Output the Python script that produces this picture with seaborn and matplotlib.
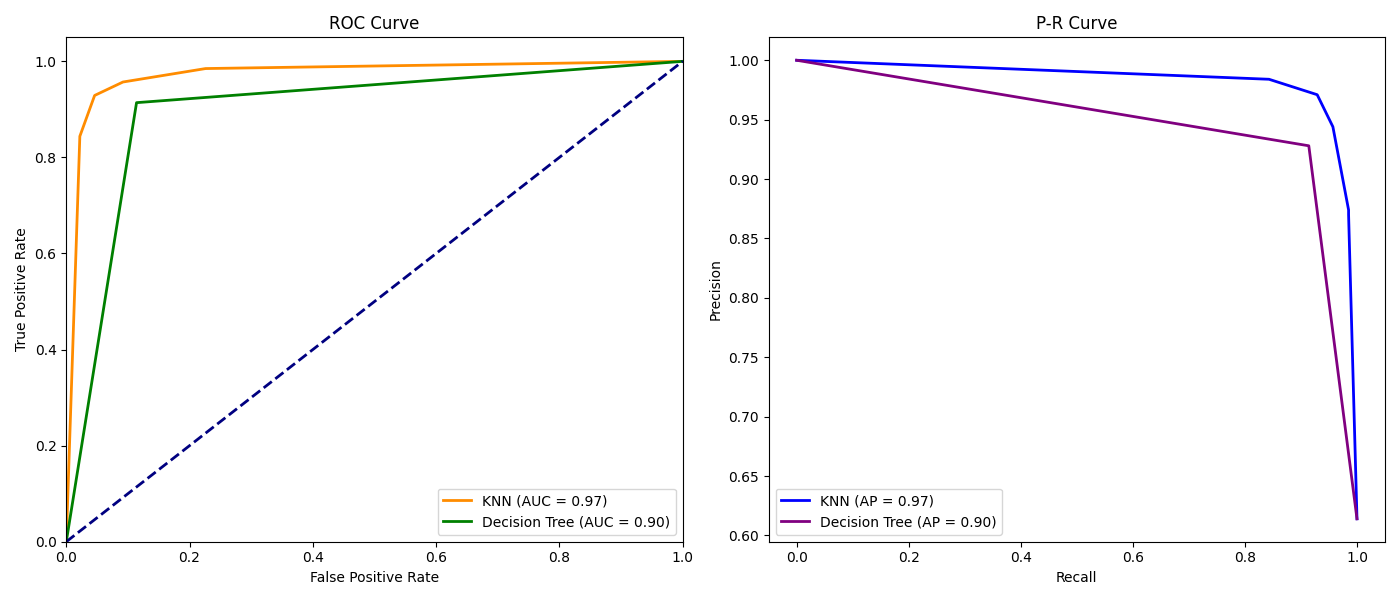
import matplotlib
matplotlib.use('Agg')
import matplotlib.pyplot as plt
import seaborn as sns
import numpy as np

# ROC curve points
knn_fpr = [0.0, 0.022, 0.046, 0.092, 0.226, 1.0]
knn_tpr = [0.0, 0.844, 0.929, 0.957, 0.985, 1.0]
dt_fpr = [0.0, 0.114, 1.0]
dt_tpr = [0.0, 0.914, 1.0]

# P-R curve points
knn_recall = [0.0, 0.843, 0.929, 0.957, 0.985, 0.985, 1.0]
knn_precision = [1.0, 0.984, 0.971, 0.944, 0.874, 0.870, 0.614]
dt_recall = [0.0, 0.914, 1.0]
dt_precision = [1.0, 0.928, 0.614]

knn_auc = 0.97
dt_auc = 0.90
knn_ap = 0.97
dt_ap = 0.90

fig, axes = plt.subplots(1, 2, figsize=(14, 6), dpi=100)

# ---------- ROC ----------
ax = axes[0]
sns.lineplot(x=knn_fpr, y=knn_tpr, ax=ax, color='darkorange', lw=2,
             sort=False, estimator=None, label=f'KNN (AUC = {knn_auc:.2f})')
sns.lineplot(x=dt_fpr, y=dt_tpr, ax=ax, color='green', lw=2,
             sort=False, estimator=None, label=f'Decision Tree (AUC = {dt_auc:.2f})')
ax.plot([0, 1], [0, 1], color='navy', lw=2, linestyle='--')
ax.set_xlim(0.0, 1.0)
ax.set_ylim(0.0, 1.05)
ax.set_xlabel('False Positive Rate')
ax.set_ylabel('True Positive Rate')
ax.set_title('ROC Curve')
ax.legend(loc='lower right')

# ---------- P-R ----------
ax = axes[1]
sns.lineplot(x=knn_recall, y=knn_precision, ax=ax, color='blue', lw=2,
             sort=False, estimator=None, label=f'KNN (AP = {knn_ap:.2f})')
sns.lineplot(x=dt_recall, y=dt_precision, ax=ax, color='purple', lw=2,
             sort=False, estimator=None, label=f'Decision Tree (AP = {dt_ap:.2f})')
ax.set_xlabel('Recall')
ax.set_ylabel('Precision')
ax.set_title('P-R Curve')
ax.legend(loc='lower left')

plt.tight_layout()
plt.savefig('out.png')
